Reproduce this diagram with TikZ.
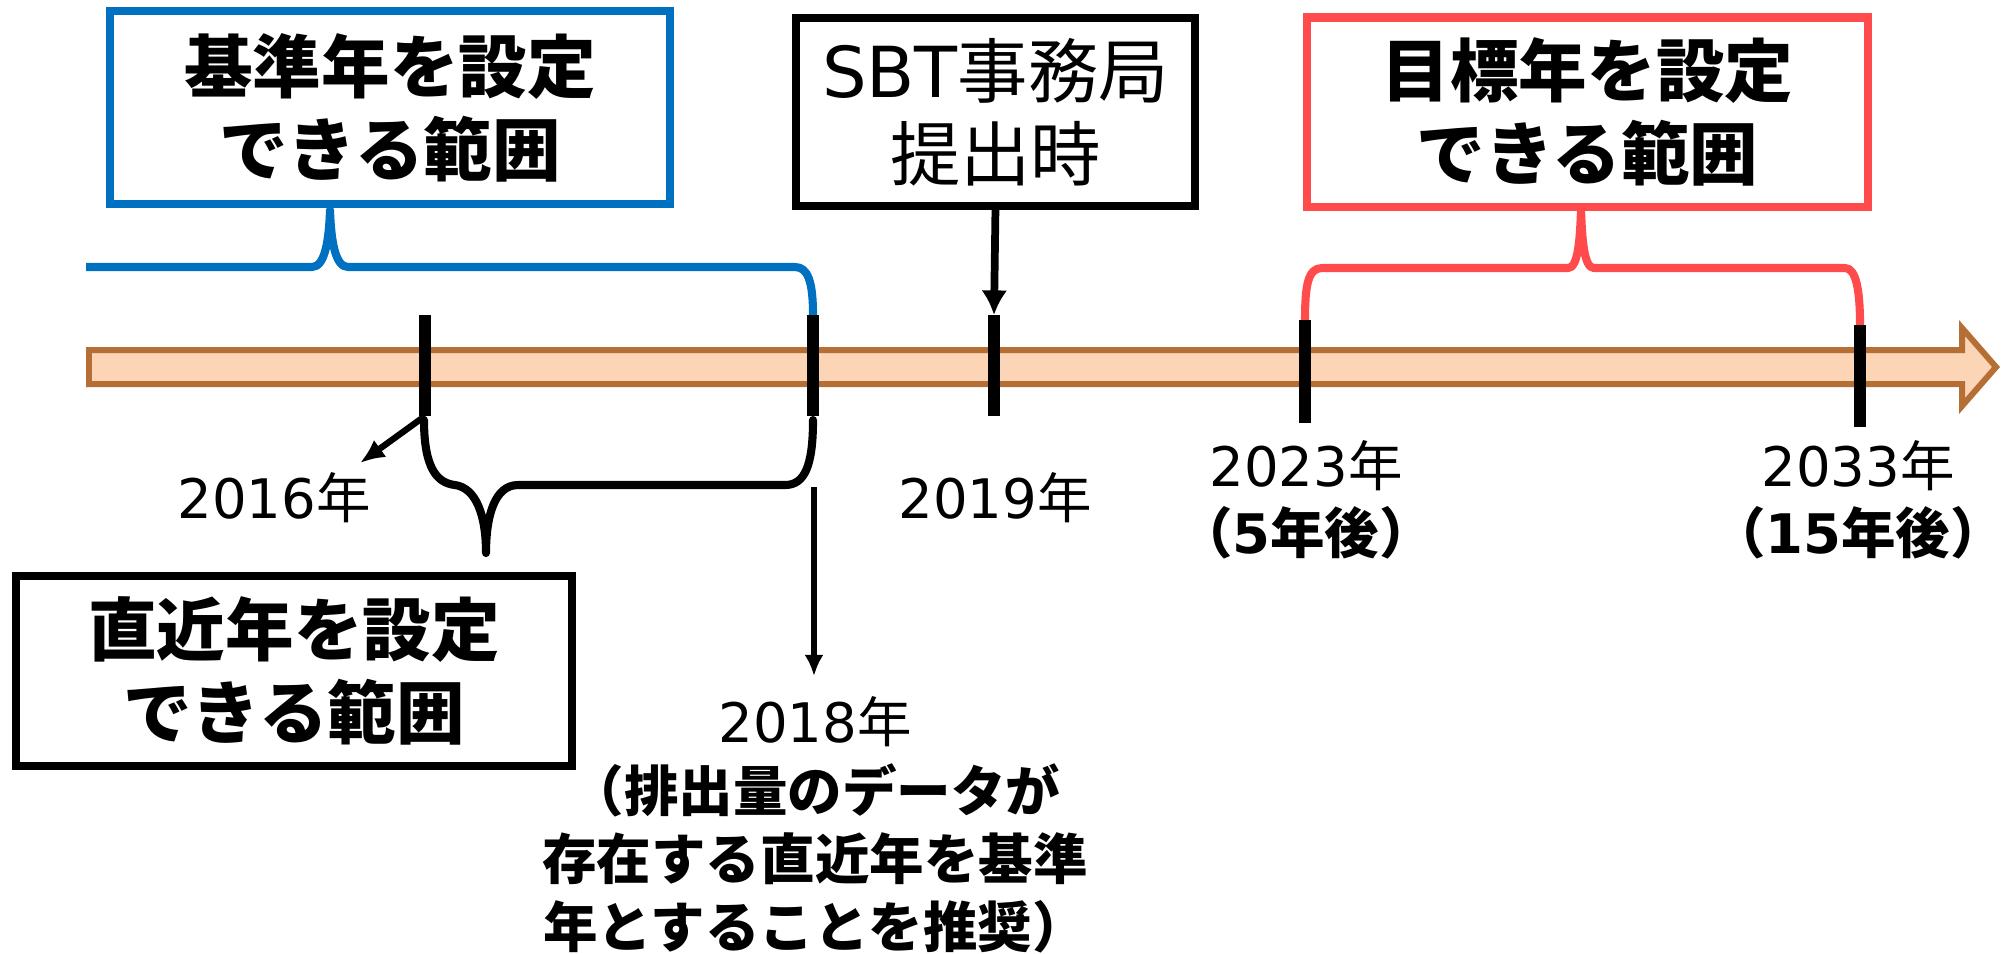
\documentclass[tikz,border=0pt]{standalone}
\usepackage{fontspec}
\setmainfont{Noto Sans CJK JP}
\newfontfamily\latinfont{DejaVu Sans}
\usetikzlibrary{arrows.meta}
\usetikzlibrary{positioning}
\definecolor{rangeblue}{RGB}{0,112,192}
\definecolor{rangered}{RGB}{255,75,75}
\definecolor{bandfill}{RGB}{251,213,181}
\definecolor{bandline}{RGB}{181,110,52}
\newcommand{\yr}[1]{{\latinfont #1}年}

\begin{document}
\begin{tikzpicture}[x=0.01cm,y=-0.01cm,
        rangebox/.style={draw,line width=2.3pt,rectangle,inner sep=0pt,outer sep=0pt,align=center,
            font=\fontsize{19.5}{23.6}\selectfont\bfseries},
        yearlabel/.style={inner sep=0pt,align=center,font=\fontsize{15.5}{19.2}\selectfont},
        tickmark/.style={line width=3.4pt},
        brace/.style={line width=2.3pt,line cap=round,line join=round}]
        \useasboundingbox (0,0) rectangle (2001,953);

        % time axis
        \draw[line width=1.7pt,draw=bandline,fill=bandfill,line join=miter]
        (89,350) -- (1962,350) -- (1962,328) -- (1996,367) -- (1962,406) -- (1962,384) -- (89,384) -- cycle;

        % boxes
        \node[rangebox,draw=rangeblue,minimum width=5.6cm,minimum height=1.93cm] (base box) at (390,107.5) {基準年を設定\\できる範囲};
        \node[rangebox,font=\fontsize{20}{23.6}\selectfont,minimum width=3.99cm,minimum height=1.88cm] (sbt box) at (995.5,112) {{\latinfont SBT}事務局\\提出時};
        \node[rangebox,draw=rangered,minimum width=5.61cm,minimum height=1.89cm] (target box) at (1587.5,112) {目標年を設定\\できる範囲};
        \node[rangebox,minimum width=5.56cm,minimum height=1.9cm] (recent box) at (294,671) {直近年を設定\\できる範囲};

        % braces
        \draw[brace,draw=rangeblue,line cap=butt] (86,267) -- (312,267)
        .. controls (325,267) and (329,240) .. (330,210)
        .. controls (331,240) and (335,267) .. (348,267) -- (795,267)
        .. controls (808,267) and (813,282) .. (813,315);
        \draw[brace,draw=rangered] (1305,320) .. controls (1305,285) and (1308,268) .. (1322,268) -- (1568,268)
        .. controls (1578,268) and (1580,240) .. (1581,209)
        .. controls (1582,240) and (1584,268) .. (1594,268) -- (1845,268)
        .. controls (1856,268) and (1860,290) .. (1860,325);
        \draw[brace] (424,420) .. controls (424,470) and (438,483) .. (455,485)
        .. controls (476,488) and (486,515) .. (486,553)
        .. controls (486,515) and (495,485) .. (518,485) -- (785,485)
        .. controls (805,485) and (813,465) .. (813,420);

        % ticks
        \foreach \name/\x/\ya/\yb in {t16/425/315/416, t18/813/315/416, t19/994/315/416, t23/1305/320/423, t33/1860/325/427}{
            \coordinate (\name-top) at (\x,\ya);
            \coordinate (\name-bot) at (\x,\yb);
            \draw[tickmark] (\name-top) -- (\name-bot);
        }

        % arrows
        \coordinate (arrow16 tip) at (360,463);
        \coordinate (arrow18 start) at (814,487);
        \coordinate (arrow18 tip) at (814,676);
        \draw[line width=2.2pt,-{Latex[length=7pt,width=7.4pt]}] (sbt box.south) -- (t19-top);
        \draw[line width=1.8pt,-{Latex[length=7pt,width=6pt]}] (t16-bot) -- (arrow16 tip);
        \draw[line width=1.5pt,-{Latex[length=6pt,width=5.4pt]}] (arrow18 start) -- (arrow18 tip);

        % year labels
        \node[yearlabel] (year 2016) at (274,498) {\yr{2016}};
        \node[yearlabel] (year 2019) at (995,498) {\yr{2019}};
        \node[yearlabel] (year 2023) at (1306,500) {\yr{2023}\\\textbf{（{\latinfont 5}年後）}};
        \node[yearlabel] (year 2033) at (1858,500) {\yr{2033}\\\textbf{（{\latinfont 15}年後）}};
        \node[yearlabel,font=\fontsize{15.5}{19.4}\selectfont] (year 2018) at (815,825) {\yr{2018}\\\textbf{（排出量のデータが}\\\textbf{存在する直近年を基準}\\\textbf{年とすることを推奨）}};
    \end{tikzpicture}
\end{document}
